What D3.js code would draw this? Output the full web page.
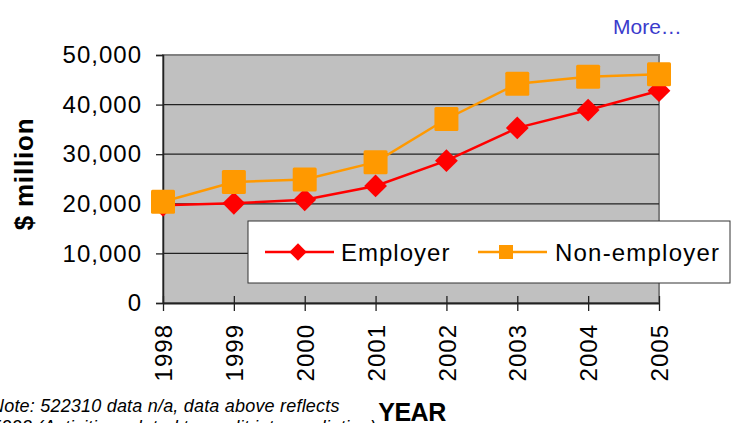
<!DOCTYPE html>
<html>
<head>
<meta charset="utf-8">
<script src="https://cdn.jsdelivr.net/npm/d3@7"></script>
<style>
  body { margin: 0; background: #fff; }
  text { font-family: "Liberation Sans", Arial, sans-serif; }
</style>
</head>
<body>
<div id="chart"></div>
<script>
// DATA--------------------
var years = ["1998", "1999", "2000", "2001", "2002", "2003", "2004", "2005"];
var employer = [19700, 20100, 20800, 23600, 28700, 35300, 38900, 42800];
var nonEmployer = [20400, 24400, 24900, 28400, 37100, 44200, 45600, 46100];
var yTicks = [0, 10000, 20000, 30000, 40000, 50000];
var seriesNames = ["Employer", "Non-employer"];

// BOUNDARIES--------------------
var svgWidth = 736;
var svgHeight = 423;

var margin = { top: 55, right: 77, bottom: 120, left: 163 };
var width = svgWidth - margin.left - margin.right;
var height = svgHeight - margin.top - margin.bottom;

var svg = d3.select("#chart")
    .append("svg")
    .attr("width", svgWidth)
    .attr("height", svgHeight);

var plot = svg.append("g")
    .attr("transform", `translate(${margin.left}, ${margin.top})`);

var xScale = d3.scalePoint().domain(years).range([0, width]);
var yScale = d3.scaleLinear().domain([0, 50000]).range([height, 0]);

// plot area background
plot.append("rect")
    .attr("width", width)
    .attr("height", height)
    .attr("fill", "#c0c0c0")
    .attr("stroke", "#808080")
    .attr("stroke-width", 2);

// gridlines
plot.selectAll("line.grid")
    .data(yTicks.filter(d => d > 0 && d < 50000))
    .enter()
    .append("line")
    .attr("x1", 0)
    .attr("x2", width)
    .attr("y1", d => yScale(d))
    .attr("y2", d => yScale(d))
    .attr("stroke", "#222")
    .attr("stroke-width", 1.3);

// y axis
var leftAxis = d3.axisLeft(yScale)
    .tickValues(yTicks)
    .tickSize(7)
    .tickPadding(14)
    .tickFormat(d3.format(","));

var yAxis = plot.append("g").call(leftAxis);
yAxis.select(".domain").attr("stroke", "#222").attr("stroke-width", 1.5);
yAxis.selectAll(".tick line").attr("stroke", "#222").attr("stroke-width", 1.3);
yAxis.selectAll("text")
    .attr("font-size", 24)
    .attr("letter-spacing", 1)
    .attr("fill", "#000");

// x axis
var bottomAxis = d3.axisBottom(xScale)
    .tickSizeInner(8)
    .tickSizeOuter(0)
    .tickPadding(0);

var xAxis = plot.append("g")
    .attr("transform", `translate(0, ${height})`)
    .call(bottomAxis);
xAxis.select(".domain").attr("stroke", "#222").attr("stroke-width", 1.8);
xAxis.selectAll(".tick line")
    .attr("y1", -7)
    .attr("stroke", "#222")
    .attr("stroke-width", 1.3);
xAxis.selectAll("text")
    .attr("transform", "rotate(-90)")
    .attr("text-anchor", "end")
    .attr("x", -21)
    .attr("y", 0)
    .attr("dy", "0.36em")
    .attr("font-size", 24)
    .attr("letter-spacing", 1)
    .attr("fill", "#000");

// lines
var line = d3.line()
    .x((d, i) => xScale(years[i]))
    .y(d => yScale(d));

plot.append("path")
    .datum(employer)
    .attr("d", line)
    .attr("fill", "none")
    .attr("stroke", "#ff0000")
    .attr("stroke-width", 2.5);

var diamond = d3.symbol().type(d3.symbolSquare).size(260);

plot.selectAll("path.emp")
    .data(employer)
    .enter()
    .append("path")
    .attr("d", diamond)
    .attr("transform", (d, i) => `translate(${xScale(years[i])}, ${yScale(d)}) rotate(45)`)
    .attr("fill", "#ff0000");

plot.append("path")
    .datum(nonEmployer)
    .attr("d", line)
    .attr("fill", "none")
    .attr("stroke", "#ff9900")
    .attr("stroke-width", 2.5);

plot.selectAll("rect.nonemp")
    .data(nonEmployer)
    .enter()
    .append("rect")
    .attr("x", (d, i) => xScale(years[i]) - 12)
    .attr("y", d => yScale(d) - 12)
    .attr("width", 24)
    .attr("height", 24)
    .attr("rx", 1.5)
    .attr("fill", "#ff9900");

// legend
var legend = svg.append("g").attr("transform", "translate(248, 221)");

legend.append("rect")
    .attr("width", 482)
    .attr("height", 62)
    .attr("fill", "#fff")
    .attr("stroke", "#333")
    .attr("stroke-width", 1);

var emp = legend.append("g").attr("transform", "translate(0, 31)");
emp.append("line")
    .attr("x1", 17).attr("x2", 86)
    .attr("stroke", "#ff0000").attr("stroke-width", 2.5);
emp.append("path")
    .attr("d", d3.symbol().type(d3.symbolSquare).size(150))
    .attr("transform", "translate(50, 0) rotate(45)")
    .attr("fill", "#ff0000");
emp.append("text")
    .attr("x", 93)
    .attr("dy", "0.36em")
    .attr("font-size", 24)
    .attr("letter-spacing", 1)
    .text(seriesNames[0]);

var non = legend.append("g").attr("transform", "translate(0, 31)");
non.append("line")
    .attr("x1", 230).attr("x2", 299)
    .attr("stroke", "#ff9900").attr("stroke-width", 2.5);
non.append("rect")
    .attr("x", 251).attr("y", -7)
    .attr("width", 14).attr("height", 14)
    .attr("fill", "#ff9900");
non.append("text")
    .attr("x", 307)
    .attr("dy", "0.36em")
    .attr("font-size", 24)
    .attr("letter-spacing", 1.2)
    .text(seriesNames[1]);

// axis titles
svg.append("text")
    .attr("transform", "translate(33, 174) rotate(-90)")
    .attr("text-anchor", "middle")
    .attr("font-size", 26)
    .attr("font-weight", "bold")
    .attr("letter-spacing", 0.8)
    .text("$ million");

svg.append("text")
    .attr("x", 412)
    .attr("y", 421)
    .attr("text-anchor", "middle")
    .attr("font-size", 25)
    .attr("font-weight", "bold")
    .attr("letter-spacing", -0.5)
    .text("YEAR");

// note
svg.append("text")
    .attr("x", -9)
    .attr("y", 412)
    .attr("font-size", 18)
    .attr("font-style", "italic")
    .attr("letter-spacing", 0.2)
    .text("Note: 522310 data n/a, data above reflects");

svg.append("text")
    .attr("x", -9)
    .attr("y", 433)
    .attr("font-size", 18)
    .attr("font-style", "italic")
    .attr("letter-spacing", 0.2)
    .text("5223 (Activities related to credit intermediation)");

// link text
svg.append("text")
    .attr("x", 613)
    .attr("y", 34)
    .attr("font-size", 21)
    .attr("fill", "#3b3bcc")
    .text("More…");
</script>
</body>
</html>
